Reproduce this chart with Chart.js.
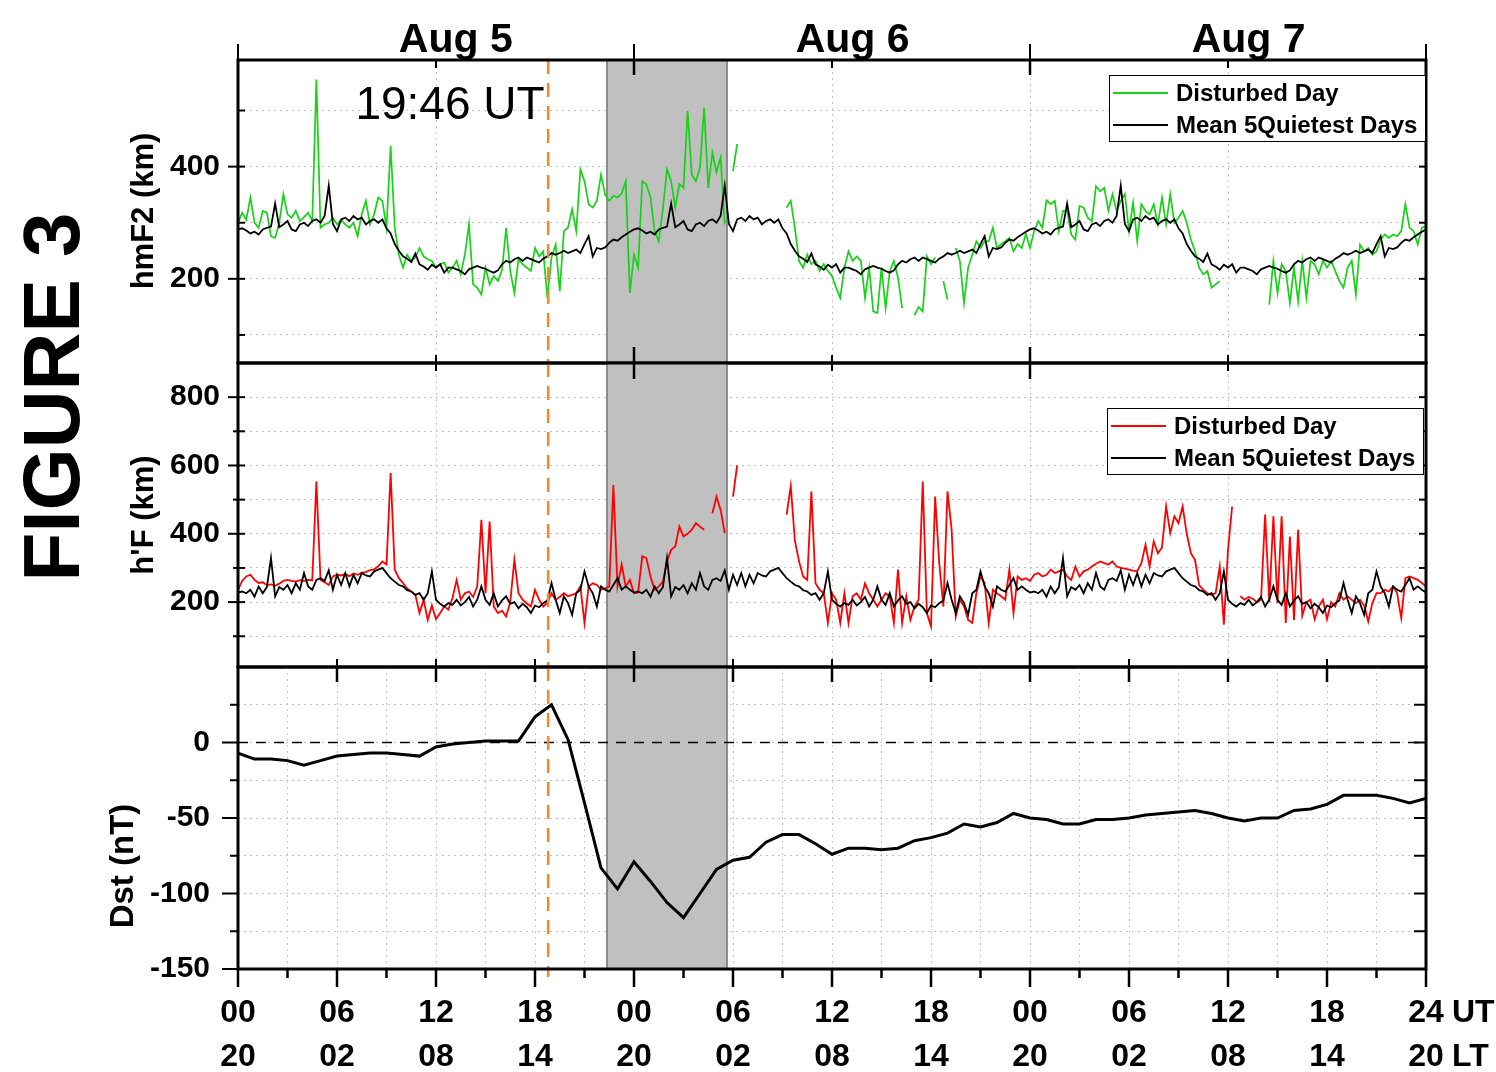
<!DOCTYPE html>
<html>
<head>
<meta charset="utf-8">
<script src="https://cdn.jsdelivr.net/npm/chart.js@4/dist/chart.umd.min.js"></script>
<style>
  html, body { margin: 0; padding: 0; background: #fff; }
  #wrap { position: relative; width: 1496px; height: 1072px; }
  #wrap canvas { position: absolute; left: 0; top: 0; }
</style>
</head>
<body>
<div id="wrap">
  <canvas id="hmf2" width="1496" height="1072"></canvas>
  <canvas id="hpf" width="1496" height="1072"></canvas>
  <canvas id="dst" width="1496" height="1072"></canvas>
</div>
<script>
// time axis: hours UT from 00 UT Aug 5 to 24 UT Aug 7
const stepHours = 0.25
const shadeStartHour = 22.36
const shadeEndHour = 29.64
const onsetHour = 18.8
const dayNames = ["Aug 5", "Aug 6", "Aug 7"]
const dayCenters = [13.2, 37.25, 61.25]
const utLabels = ["00", "06", "12", "18", "00", "06", "12", "18", "00", "06", "12", "18", "24"]
const ltLabels = ["20", "02", "08", "14", "20", "02", "08", "14", "20", "02", "08", "14", "20"]

const hmf2Ticks = [100, 200, 300, 400, 500]
const hmf2Labels = [200, 400]
const hpfTicks = [100, 200, 300, 400, 500, 600, 700, 800]
const hpfLabels = [200, 400, 600, 800]
const dstTicks = [-150, -125, -100, -75, -50, -25, 0, 25]
const dstLabels = [0, -50, -100, -150]

// hmF2 (km), mean of 5 quietest days, one day at 15 min steps (repeated for each day)
const hmf2Quiet24 = [
  288, 290, 286, 281, 284, 279, 288, 291,
  293, 334, 292, 297, 303, 288, 285, 297,
  300, 294, 303, 306, 300, 312, 366, 298,
  285, 306, 309, 303, 312, 306, 309, 297,
  303, 306, 300, 306, 290, 281, 262, 250,
  240, 236, 230, 245, 226, 222, 216, 225,
  220, 226, 211, 220, 220, 217, 214, 208,
  217, 220, 223, 220, 218, 214, 211, 215,
  226, 232, 229, 235, 238, 232, 238, 235,
  232, 229, 236, 240, 246, 243, 246, 250,
  246, 249, 252, 246, 262, 276, 240, 255,
  253, 256, 264, 270, 268, 274, 279, 284
]

// hmF2 (km), disturbed days Aug 5-7, 15 min steps
const hmf2Disturbed = [
  300, 318, 305, 345, 300, 291, 321, 318,
  276, 273, 300, 351, 315, 309, 321, 303,
  310, 318, 303, 555, 291, 297, 300, 309,
  297, 305, 297, 291, 300, 276, 315, 339,
  297, 315, 345, 339, 291, 437, 291, 243,
  220, 243, 232, 238, 255, 240, 235, 232,
  220, 226, 229, 211, 220, 232, 208, 243,
  297, 190, 184, 172, 220, 190, 205, 196,
  215, 291, 214, 175, 235, 226, 220, 214,
  255, 240, 249, 166, 238, 261, 178, 285,
  291, 324, 285, 395, 374, 333, 327, 339,
  386, 350, 339, 348, 345, 352, 374, 175,
  243, 220, 374, 368, 345, 285, 267, 324,
  395, 374, 327, 369, 362, 499, 386, 374,
  398, 505, 362, 425, 390, 416, 297, null,
  392, 440, null, null, null, null, null, null,
  null, null, null, null, null, 327, 339, 291,
  232, 220, 243, 226, 232, 214, 226, 214,
  205, 184, 166, 220, 249, 232, 240, 232,
  166, 220, 142, 139, 220, 148, 214, 232,
  202, 148, null, null, 135, 150, 142, 240,
  226, 238, null, 196, 163, null, 255, 232,
  157, 220, 243, 267, 255, 267, 267, 291,
  255, 262, 267, 273, 249, 262, 255, 280,
  255, 285, 303, 291, 340, 333, 339, 285,
  321, 321, 279, 270, 330, 327, 309, 303,
  365, 356, 362, 321, 351, 321, 339, 351,
  285, 336, 267, 333, 321, 315, 333, 297,
  345, 297, 351, 300, 309, 321, 300, 270,
  249, 220, 208, 214, 184, 190, 196, null,
  null, null, null, null, null, null, null, null,
  null, null, 154, 232, 175, 226, 214, 157,
  220, 160, 232, 166, 232, 226, 208, 232,
  220, 232, 214, 196, 184, 220, 232, 172,
  261, 249, 255, 243, 249, 270, 279, 273,
  279, 276, 285, 333, 291, 285, 261, 291,
  294
]

// h'F (km), mean of 5 quietest days, one day at 15 min steps
const hpfQuiet24 = [
  228, 231, 226, 236, 216, 246, 226, 244,
  329, 217, 244, 236, 250, 226, 255, 236,
  285, 246, 236, 265, 270, 262, 293, 236,
  280, 250, 285, 246, 280, 255, 285, 278,
  275, 290, 295, 300, 285, 270, 260, 250,
  246, 235, 231, 221, 226, 207, 226, 290,
  207, 195, 187, 197, 192, 207, 190, 200,
  215, 187, 207, 246, 207, 192, 226, 187,
  205, 217, 195, 200, 182, 195, 185, 168,
  190, 185, 197, 205, 256, 207, 168, 217,
  197, 163, 226, 236, 290, 246, 226, 187,
  246, 236, 231, 250, 270, 236, 246, 236
]

// h'F (km), disturbed days Aug 5-7, 15 min steps
const hpfDisturbed = [
  236, 262, 275, 280, 265, 256, 258, 250,
  252, 248, 254, 262, 265, 262, 260, 264,
  262, 265, 264, 553, 265, 258, 250, 275,
  280, 278, 282, 276, 284, 280, 286, 288,
  294, 296, 305, 319, 310, 578, 295, 270,
  256, 240, 231, 221, 168, 207, 148, 190,
  150, 168, 187, 178, 212, 265, 207, 226,
  231, 215, 246, 441, 226, 436, 187, 168,
  175, 158, 200, 324, 226, 207, 196, 187,
  236, 207, 187, 198, 226, 207, 215, 226,
  217, 221, 226, 246, 139, 246, 255, 250,
  236, 240, 246, 543, 246, 310, 246, 265,
  226, 228, 334, 329, 275, 236, 246, 260,
  319, 353, 363, 421, 392, 400, 412, 431,
  421, 412, null, 460, 509, 470, 402, null,
  509, 600, null, null, null, null, null, null,
  null, null, null, null, null, 456, 540, 380,
  320, 275, 265, 524, 255, 236, 226, 139,
  226, 207, 139, 226, 139, 217, 226, 207,
  255, 226, 207, 187, 207, 226, 217, 139,
  295, 139, 217, 148, 187, 207, 553, 168,
  129, 509, 314, 187, 524, 412, 158, 207,
  187, 148, 139, 226, 275, 256, 139, 236,
  226, 217, 207, 295, 168, 275, 265, 270,
  262, 280, 285, 275, 280, 295, 285, 290,
  295, 275, 265, 304, 275, 290, 295, 304,
  312, 319, 314, 310, 319, 304, 300, 298,
  295, 292, 290, 314, 368, 304, 378, 343,
  360, 480, 402, 451, 431, 480, 400, 343,
  324, 250, 236, 226, 221, 226, 304, 134,
  353, 480, null, 217, 207, 215, 210, 200,
  207, 456, 200, 451, 197, 451, 139, 392,
  148, 412, 160, 200, 207, 150, 187, 207,
  150, 200, 187, 226, 207, 217, 207, 197,
  207, 190, 143, 197, 226, 226, 236, 231,
  246, 226, 153, 270, 275, 270, 265, 256,
  246
]

// hourly Dst (nT), 00 UT Aug 5 to 24 UT Aug 7
const dstValues = [
  -7, -11, -11, -12, -15, -12, -9, -8, -7, -7,
  -8, -9, -3, -1, 0, 1, 1, 1, 17, 25,
  2, -40, -83, -97, -79, -92, -106, -116, -100, -84,
  -78, -76, -66, -61, -61, -67, -74, -70, -70, -71,
  -70, -65, -63, -60, -54, -56, -53, -47, -50, -51,
  -54, -54, -51, -51, -50, -48, -47, -46, -45, -47,
  -50, -52, -50, -50, -45, -44, -41, -35, -35, -35,
  -37, -40, -37
]
const dstZeroHours = [0, 72]
const dstZeroValues = [0, 0]

const hmf2QuietDays = hmf2Quiet24.concat(hmf2Quiet24, hmf2Quiet24, [hmf2Quiet24[0]])
const hpfQuietDays = hpfQuiet24.concat(hpfQuiet24, hpfQuiet24, [hpfQuiet24[0]])

const FONT = "'Liberation Sans', Arial, sans-serif"
Chart.defaults.font.family = FONT
Chart.defaults.color = "#000"

function toPoints(values, step) {
  return values.map((v, i) => ({ x: i * step, y: v }))
}

function line(ctx, x1, y1, x2, y2, w) {
  ctx.lineWidth = w || 2
  ctx.beginPath()
  ctx.moveTo(x1, y1)
  ctx.lineTo(x2, y2)
  ctx.stroke()
}

function vText(ctx, text, x, y, font) {
  ctx.save()
  ctx.translate(x, y)
  ctx.rotate(-Math.PI / 2)
  ctx.font = font
  ctx.fillStyle = "#000"
  ctx.textAlign = "center"
  ctx.textBaseline = "middle"
  ctx.fillText(text, 0, 0)
  ctx.restore()
}

function drawLegend(ctx, box, datasets) {
  ctx.save()
  ctx.fillStyle = "#fff"
  ctx.fillRect(box.x, box.y, box.w, box.h)
  ctx.strokeStyle = "#000"
  ctx.lineWidth = 1
  ctx.strokeRect(box.x + 0.5, box.y + 0.5, box.w, box.h)
  datasets.forEach((ds, i) => {
    const cy = box.y + 18 + i * 32
    ctx.strokeStyle = ds.borderColor
    line(ctx, box.x + 4, cy, box.x + 59, cy, 2)
    ctx.fillStyle = "#000"
    ctx.font = "bold 24px " + FONT
    ctx.textAlign = "left"
    ctx.textBaseline = "middle"
    ctx.fillText(ds.label, box.x + 67, cy + 1)
  })
  ctx.restore()
}

// shading of the main phase, storm onset marker, frame and tick marks
function panelPlugin(p) {
  return {
    id: "panel_" + p.name,
    beforeDatasetsDraw(chart) {
      const { ctx, chartArea: a, scales: { x } } = chart
      const x1 = x.getPixelForValue(shadeStartHour)
      const x2 = x.getPixelForValue(shadeEndHour)
      ctx.save()
      ctx.fillStyle = "#c0c0c0"
      ctx.fillRect(x1, a.top, x2 - x1, a.bottom - a.top)
      ctx.strokeStyle = "#5a5a5a"
      line(ctx, x1, a.top, x1, a.bottom, 1.2)
      line(ctx, x2, a.top, x2, a.bottom, 1.2)
      ctx.restore()
    },
    afterDatasetsDraw(chart) {
      const { ctx, chartArea: a, scales: { x, y } } = chart
      ctx.save()
      // onset line
      const ox = x.getPixelForValue(onsetHour)
      ctx.strokeStyle = "#f28a2e"
      ctx.setLineDash([14, 9])
      line(ctx, ox, a.top, ox, a.bottom + (p.onsetExtra || 0), 2.6)
      ctx.setLineDash([])
      // frame
      ctx.strokeStyle = "#000"
      ctx.lineWidth = 3
      ctx.strokeRect(a.left, a.top, a.right - a.left, a.bottom - a.top)
      p.decorate(ctx, a, x, y, chart)
      ctx.restore()
    }
  }
}

function xScale(tickHours, axisHeight) {
  const s = {
    type: "linear",
    min: 0,
    max: 72,
    afterBuildTicks: sc => { sc.ticks = tickHours.map(v => ({ value: v })) },
    afterFit: sc => { sc.height = axisHeight },
    grid: { color: "#c4c4c4", lineWidth: 1, drawTicks: false },
    border: { display: false, dash: [2, 4] },
    ticks: { display: false }
  }
  if (axisHeight > 0) {
    s.ticks = {
      display: true,
      autoSkip: false,
      maxRotation: 0,
      padding: 22,
      font: { size: 32, weight: "bold", lineHeight: 1.375 },
      callback: v => (v % 6 === 0 ? [utLabels[v / 6], ltLabels[v / 6]] : "")
    }
  }
  return s
}

function yScale(min, max, tickVals, labelVals, pad) {
  return {
    type: "linear",
    min: min,
    max: max,
    afterBuildTicks: sc => { sc.ticks = tickVals.map(v => ({ value: v })) },
    afterFit: sc => { sc.width = 238 },
    grid: { color: "#c4c4c4", lineWidth: 1, drawTicks: false },
    border: { display: false, dash: [2, 4] },
    ticks: {
      autoSkip: false,
      padding: pad || 18,
      font: { size: 30, weight: "bold" },
      callback: v => (labelVals.includes(v) ? String(v) : "")
    }
  }
}

function baseOptions(top, bottom, xs, ys, axisHeight) {
  return {
    responsive: false,
    animation: false,
    events: [],
    layout: { autoPadding: false, padding: { left: 0, right: 70, top: top, bottom: 1072 - bottom - axisHeight } },
    plugins: { legend: { display: false }, tooltip: { enabled: false } },
    elements: { point: { radius: 0 }, line: { tension: 0 } },
    scales: { x: xs, y: ys }
  }
}

// ---- panel 1: hmF2
new Chart(document.getElementById("hmf2"), {
  type: "line",
  data: {
    datasets: [
      { label: "Mean 5Quietest Days", data: toPoints(hmf2QuietDays, stepHours), borderColor: "#000", borderWidth: 1.8, order: 0 },
      { label: "Disturbed Day", data: toPoints(hmf2Disturbed, stepHours), borderColor: "#14d214", borderWidth: 1.7, order: 1 }
    ]
  },
  options: baseOptions(60, 363, xScale([12, 24, 36, 48, 60], 0), yScale(50, 590, hmf2Ticks, hmf2Labels), 0),
  plugins: [panelPlugin({
    name: "hmf2",
    decorate(ctx, a, x, y, chart) {
      ctx.strokeStyle = "#000"
      hmf2Ticks.forEach(v => {
        const py = y.getPixelForValue(v)
        line(ctx, a.left, py, a.left + 7, py)
        line(ctx, a.right - 7, py, a.right, py)
      })
      hmf2Labels.forEach(v => {
        const py = y.getPixelForValue(v)
        line(ctx, a.left - 10, py, a.left, py)
      })
      ;[0, 24, 48, 72].forEach(h => line(ctx, x.getPixelForValue(h), 44, x.getPixelForValue(h), a.top, 2))
      ;[24, 48].forEach(h => {
        const px = x.getPixelForValue(h)
        line(ctx, px, a.top, px, a.top + 15, 2.5)
        line(ctx, px, a.bottom - 16, px, a.bottom, 2.5)
      })
      ;[12, 36, 60].forEach(h => {
        const px = x.getPixelForValue(h)
        line(ctx, px, a.top, px, a.top + 8, 2)
        line(ctx, px, a.bottom - 8, px, a.bottom, 2)
      })
      // day names above the panel
      ctx.fillStyle = "#000"
      ctx.font = "bold 41px " + FONT
      ctx.textAlign = "center"
      ctx.textBaseline = "alphabetic"
      dayCenters.forEach((h, i) => ctx.fillText(dayNames[i], x.getPixelForValue(h), 52))
      // onset time label
      ctx.font = "46px " + FONT
      ctx.fillText("19:46 UT", 450, 119)
      drawLegend(ctx, { x: 1109, y: 75, w: 316, h: 66 }, [chart.data.datasets[1], chart.data.datasets[0]])
      vText(ctx, "hmF2 (km)", 144, 211, "bold 31px " + FONT)
      vText(ctx, "FIGURE 3", 57, 397, "bold 80px " + FONT)
    }
  })]
})

// ---- panel 2: h'F
new Chart(document.getElementById("hpf"), {
  type: "line",
  data: {
    datasets: [
      { label: "Mean 5Quietest Days", data: toPoints(hpfQuietDays, stepHours), borderColor: "#000", borderWidth: 1.8, order: 0 },
      { label: "Disturbed Day", data: toPoints(hpfDisturbed, stepHours), borderColor: "#ff0000", borderWidth: 1.8, order: 1 }
    ]
  },
  options: baseOptions(363, 667, xScale([12, 24, 36, 48, 60], 0), yScale(10, 900, hpfTicks, hpfLabels), 0),
  plugins: [panelPlugin({
    name: "hpf",
    decorate(ctx, a, x, y, chart) {
      ctx.strokeStyle = "#000"
      hpfTicks.forEach(v => {
        const py = y.getPixelForValue(v)
        line(ctx, a.left, py, a.left + 7, py)
        line(ctx, a.right - 7, py, a.right, py)
        line(ctx, a.left - (hpfLabels.includes(v) ? 10 : 5), py, a.left, py)
      })
      ;[24, 48].forEach(h => {
        const px = x.getPixelForValue(h)
        line(ctx, px, a.top, px, a.top + 16, 2.5)
        line(ctx, px, a.bottom - 16, px, a.bottom, 2.5)
      })
      ;[12, 36, 60].forEach(h => {
        const px = x.getPixelForValue(h)
        line(ctx, px, a.top, px, a.top + 8, 2)
      })
      ;[6, 12, 18, 30, 36, 42, 54, 60, 66].forEach(h => {
        const px = x.getPixelForValue(h)
        line(ctx, px, a.bottom - 8, px, a.bottom, 2)
      })
      drawLegend(ctx, { x: 1107, y: 408, w: 316, h: 66 }, [chart.data.datasets[1], chart.data.datasets[0]])
      vText(ctx, "h'F (km)", 144, 515, "bold 31px " + FONT)
    }
  })]
})

// ---- panel 3: Dst
const dstHourTicks = []
for (let h = 0; h <= 72; h += 3) dstHourTicks.push(h)

new Chart(document.getElementById("dst"), {
  type: "line",
  data: {
    datasets: [
      { label: "Dst", data: toPoints(dstValues, 1), borderColor: "#000", borderWidth: 3, order: 0 },
      { label: "zero", data: dstZeroHours.map((h, i) => ({ x: h, y: dstZeroValues[i] })), borderColor: "#000", borderWidth: 1.5, borderDash: [10, 8], order: 1 }
    ]
  },
  options: baseOptions(667, 969, xScale(dstHourTicks, 103), yScale(-150, 50, dstTicks, dstLabels, 28), 103),
  plugins: [panelPlugin({
    name: "dst",
    onsetExtra: 8,
    decorate(ctx, a, x, y) {
      ctx.strokeStyle = "#000"
      dstTicks.forEach(v => {
        const py = y.getPixelForValue(v)
        line(ctx, a.right - 12, py, a.right, py)
        line(ctx, a.left - (dstLabels.includes(v) ? 16 : 8), py, a.left, py)
      })
      dstHourTicks.forEach(h => {
        const px = x.getPixelForValue(h)
        const major = h % 6 === 0
        line(ctx, px, a.bottom, px, a.bottom + (major ? 18 : 9), 2.5)
        if (major && h > 0 && h < 72) line(ctx, px, a.top, px, a.top + 15, 2.5)
      })
      ctx.fillStyle = "#000"
      ctx.font = "bold 32px " + FONT
      ctx.textAlign = "left"
      ctx.textBaseline = "middle"
      ctx.fillText("UT", 1452, 1013)
      ctx.fillText("LT", 1452, 1057)
      vText(ctx, "Dst (nT)", 124, 866, "bold 33px " + FONT)
    }
  })]
})
</script>
</body>
</html>
